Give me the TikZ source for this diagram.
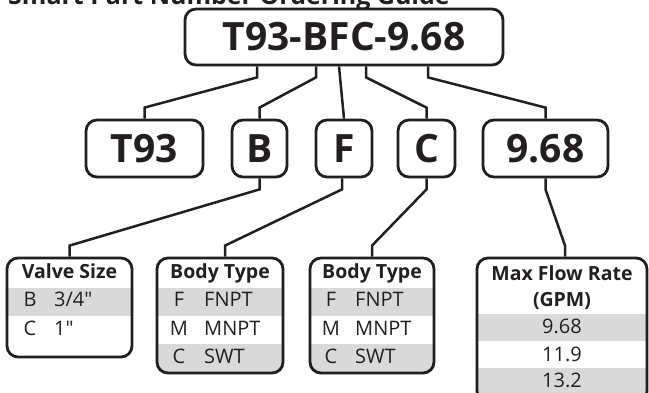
\documentclass[tikz,border=0pt]{standalone}
\usepackage{fontspec}
\setmainfont{Open Sans}
\newfontfamily\plainfont{Open Sans}
\usetikzlibrary{calc}
\pgfdeclarelayer{background}
\pgfsetlayers{background,main}
\definecolor{ink}{HTML}{231F20}
\definecolor{rowgray}{HTML}{D9D9D9}
\begin{document}
\begin{tikzpicture}[x=1pt,y=-1pt,
  box/.style={draw=ink, line width=2.8pt, rounded corners=11pt, inner sep=0pt},
  conn/.style={draw=ink, line width=2.5pt, line join=miter},
  big/.style={font=\fontsize{39}{41}\selectfont\bfseries, text=ink},
  hdr/.style={font=\plainfont\fontsize{19.5}{21}\selectfont\bfseries, text=ink, anchor=base, inner sep=0pt},
  cell/.style={font=\plainfont\fontsize{20}{22}\selectfont, text=ink, inner sep=0pt},
]
\useasboundingbox (0,0) rectangle (649,393);

% title (cut off at top)
\node[font=\fontsize{25}{27}\selectfont\bfseries, text=ink, anchor=base west, inner sep=0pt] (title) at (8,5) {Smart Part Number Ordering Guide};

% top box
\node[box, big, minimum width=318pt, minimum height=56pt] (top) at (344,37) {T93-BFC-9.68};

% second row
\node[box, big, minimum width=117pt, minimum height=57pt] (t93) at (144.5,148.5) {T93};
\node[box, big, minimum width=55pt, minimum height=57pt] (b) at (259.5,148.5) {B};
\node[box, big, minimum width=56pt, minimum height=57pt] (f) at (344,148.5) {F};
\node[box, big, minimum width=57pt, minimum height=57pt] (c) at (426.5,148.5) {C};
\node[box, big, minimum width=125pt, minimum height=57pt] (n968) at (545.5,148.5) {9.68};

% tables
\node[box, minimum width=125pt, minimum height=99pt] (vs) at (69.5,307.5) {};
\node[box, minimum width=126pt, minimum height=115pt] (bt1) at (220,315.5) {};
\node[box, minimum width=124pt, minimum height=115pt] (bt2) at (372,315.5) {};
\node[box, minimum width=170pt, minimum height=144pt] (mf) at (562,330) {};

\begin{pgfonlayer}{background}
  \begin{scope}
    \clip[rounded corners=11pt] (vs.north west) rectangle (vs.south east);
    \fill[rowgray] (0,288) rectangle (140,316);
  \end{scope}
  \begin{scope}
    \clip[rounded corners=11pt] (bt1.north west) rectangle (bt1.south east);
    \fill[rowgray] (150,288) rectangle (290,316);
    \fill[rowgray] (150,344) rectangle (290,380);
  \end{scope}
  \begin{scope}
    \clip[rounded corners=11pt] (bt2.north west) rectangle (bt2.south east);
    \fill[rowgray] (300,288) rectangle (440,316);
    \fill[rowgray] (300,344) rectangle (440,380);
  \end{scope}
  \begin{scope}
    \clip[rounded corners=11pt] (mf.north west) rectangle (mf.south east);
    \fill[rowgray] (470,314) rectangle (655,341);
    \fill[rowgray] (470,368) rectangle (655,410);
  \end{scope}
\end{pgfonlayer}

% Valve Size
\node[hdr] (vsh) at (69.5,279) {Valve Size};
\node[cell, anchor=base] (vs1a) at (30,307) {B};
\node[cell, anchor=base west] (vs1b) at (54,307) {3/4"};
\node[cell, anchor=base] (vs2a) at (30,335) {C};
\node[cell, anchor=base west] (vs2b) at (54,335) {1"};

% Body Type 1
\node[hdr] (bt1h) at (220,279) {Body Type};
\node[cell, anchor=base] (bt1a1) at (179,307) {F};
\node[cell, anchor=base west] (bt1b1) at (204,307) {FNPT};
\node[cell, anchor=base] (bt1a2) at (179,335) {M};
\node[cell, anchor=base west] (bt1b2) at (204,335) {MNPT};
\node[cell, anchor=base] (bt1a3) at (179,363) {C};
\node[cell, anchor=base west] (bt1b3) at (204,363) {SWT};

% Body Type 2
\node[hdr] (bt2h) at (372,279) {Body Type};
\node[cell, anchor=base] (bt2a1) at (331,307) {F};
\node[cell, anchor=base west] (bt2b1) at (355,307) {FNPT};
\node[cell, anchor=base] (bt2a2) at (331,335) {M};
\node[cell, anchor=base west] (bt2b2) at (355,335) {MNPT};
\node[cell, anchor=base] (bt2a3) at (331,363) {C};
\node[cell, anchor=base west] (bt2b3) at (355,363) {SWT};

% Max Flow Rate
\node[hdr] (mfh1) at (562,280) {Max Flow Rate};
\node[hdr] (mfh2) at (562,307) {(GPM)};
\node[cell, anchor=base] (mf1) at (562,334) {9.68};
\node[cell, anchor=base] (mf2) at (562,361) {11.9};
\node[cell, anchor=base] (mf3) at (562,388) {13.2};

% connectors top -> second row
\draw[conn] ($(top.south)+(-87,0)$) -- ++(0,11) -- ($(t93.north)+(0,-11)$) -- (t93.north);
\draw[conn] ($(top.south)+(-28,0)$) -- ++(0,11) -- ($(b.north)+(0,-11)$) -- (b.north);
\draw[conn] ($(top.south)+(-5,0)$) -- (f.north);
\draw[conn] ($(top.south)+(22,0)$) -- ++(0,11) -- ($(c.north)+(0,-11)$) -- (c.north);
\draw[conn] ($(top.south)+(84,0)$) -- ++(0,11) -- ($(n968.north)+(0,-11)$) -- (n968.north);

% connectors second row -> tables
\draw[conn] (b.south) -- ++(0,11) -- ($(vs.north)+(0,-11)$) -- (vs.north);
\draw[conn] ($(f.south)+(-2,0)$) -- ++(0,11) -- ($(bt1.north)+(5,-11)$) -- ($(bt1.north)+(5,0)$);
\draw[conn] (c.south) -- ++(0,11) -- ($(bt2.north)+(0,-11)$) -- (bt2.north);
\draw[conn] (n968.south) -- ++(0,11) -- ($(mf.north)+(3,-11)$) -- ($(mf.north)+(3,0)$);
\end{tikzpicture}
\end{document}
